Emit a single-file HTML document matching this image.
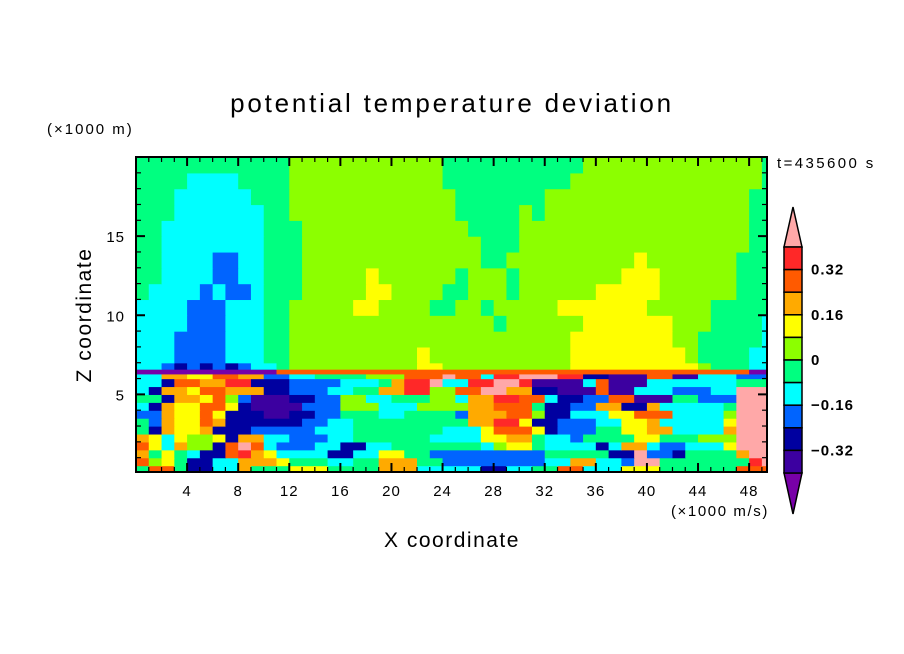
<!DOCTYPE html>
<html><head><meta charset="utf-8">
<style>
html,body{margin:0;padding:0;background:#fff;}
svg{display:block;font-family:"Liberation Sans",sans-serif;}
</style></head>
<body>
<svg id="chart" width="904" height="654" viewBox="0 0 904 654" xmlns="http://www.w3.org/2000/svg">
<rect width="904" height="654" fill="#fff"/>
<text x="452" y="112" font-size="26" letter-spacing="2.8" text-anchor="middle" fill="#000">potential temperature deviation</text>
<text x="47" y="134" font-size="15" letter-spacing="2" fill="#000">(×1000 m)</text>
<text x="777" y="168" font-size="15" letter-spacing="2.4" fill="#000">t=435600 s</text>
<text x="0" y="0" font-size="21" letter-spacing="1.5" text-anchor="middle" transform="translate(91,315) rotate(-90)" fill="#000">Z coordinate</text>
<text x="452" y="547" font-size="21" letter-spacing="1.5" text-anchor="middle" fill="#000">X coordinate</text>
<text x="769" y="516" font-size="15" letter-spacing="1.6" text-anchor="end" fill="#000">(×1000 m/s)</text>
<g id="field"></g>
<g id="axes"></g>
<g id="cbar"></g>
</svg>
<script>
// level colors (index 0 = below min, 11 = above max)
const levelColors = ["#7800a8","#3c00a0","#0000a0","#0064ff","#00ffff","#00ff80","#8cff00","#ffff00","#ffaa00","#ff5a00","#ff2828","#ffa8a8"];
const cbarLabels = ["0.32","0.16","0","−0.16","−0.32"];
const xTickLabels = [4,8,12,16,20,24,28,32,36,40,44,48];
const yTickLabels = [5,10,15];
// row boundaries in z (km), bottom to top
const zEdges = [0,0.5,1,1.5,2,2.5,3,3.5,4,4.5,5,5.5,6,6.3,6.6,7,8,9,10,11,12,13,14,15,16,17,18,19,20];
// run-length encoded level rows "level:count(km)", bottom to top
const rows = [
"5:1,9:2,5:1,2:2,4:2,8:1,5:3,7:3,5:4,8:3,4:5,2:2,4:2,5:2,9:2,4:3,7:3,5:6,9:3",
"9:1,6:1,7:1,5:1,2:2,4:2,8:3,7:1,5:3,4:2,5:2,8:3,5:2,3:8,4:2,8:2,4:2,3:1,11:2,5:7,10:1,11:1",
"8:1,5:1,7:1,5:1,4:1,2:2,9:1,10:1,8:1,7:1,4:4,2:2,4:2,7:2,5:2,3:9,5:5,2:2,11:1,3:2,2:1,5:4,8:1,11:2",
"9:1,7:1,4:1,8:1,6:2,2:1,9:1,11:1,9:1,4:1,3:3,4:2,2:2,4:2,5:7,4:1,6:1,7:2,5:1,4:4,2:1,4:1,8:2,4:1,3:2,4:3,7:1,11:3",
"8:1,7:1,4:1,7:1,6:2,7:1,2:1,8:2,4:2,3:3,4:2,5:6,4:4,7:2,8:2,5:1,4:2,3:1,5:4,7:2,5:3,6:3,11:3",
"5:1,2:1,8:1,7:2,8:1,2:3,3:5,4:3,5:7,4:3,7:1,9:3,7:1,2:1,3:3,5:2,7:2,8:2,4:4,8:1,11:3",
"5:1,3:1,8:1,7:2,9:1,8:1,2:6,3:2,4:2,5:9,8:2,10:2,7:1,2:2,3:3,4:2,7:2,8:1,4:5,7:1,11:3",
"3:2,8:1,7:2,9:1,7:1,2:3,1:2,2:2,3:2,5:3,4:2,5:4,3:1,8:3,9:2,6:1,2:2,4:3,7:2,9:3,4:4,6:1,11:3",
"4:1,2:1,8:1,7:2,9:2,7:1,2:1,1:4,3:3,6:3,4:3,6:4,8:2,9:3,5:1,2:2,3:2,8:2,2:2,8:1,4:5,5:1,11:3",
"5:2,2:1,8:2,7:1,9:1,6:1,3:1,1:3,2:2,3:2,6:2,4:2,5:3,6:2,4:1,8:2,10:2,9:2,4:1,2:2,3:2,9:2,1:3,5:2,3:3,11:3",
"4:1,2:1,8:2,7:1,9:2,8:3,2:2,3:3,4:2,5:2,8:2,10:2,6:2,9:2,11:2,8:2,2:2,1:3,9:1,1:2,4:3,3:3,4:2,11:3",
"4:2,2:1,9:2,8:2,10:2,2:3,3:4,4:3,5:1,8:1,10:2,11:1,4:2,10:2,11:2,10:1,1:4,4:1,9:1,1:3,4:7,5:3",
"4:2,8:2,7:2,9:2,8:2,3:2,4:2,5:4,6:3,9:3,11:1,9:2,4:1,10:2,11:3,10:2,2:2,1:3,9:2,1:2,4:3,3:3",
"0:11,9:37,0:2",
"4:2,3:1,2:1,3:1,2:1,3:1,2:1,3:1,4:2,5:1,6:10,7:2,6:10,7:10,6:1,5:3,4:2",
"4:3,3:4,4:3,5:2,6:10,7:1,6:11,7:9,6:1,5:4,4:2",
"4:3,3:4,4:3,5:2,6:22,7:8,6:2,5:5,4:1",
"4:4,3:3,4:3,5:2,6:16,5:1,6:6,7:7,6:3,5:4,4:1",
"4:4,3:3,4:3,5:2,6:5,7:2,6:4,5:2,6:2,5:1,6:5,7:7,6:5,5:5",
"5:1,4:4,3:1,4:1,3:2,4:1,5:3,6:5,7:2,6:4,5:2,6:3,5:1,6:6,7:5,6:6,5:3",
"5:2,4:4,3:2,4:2,5:3,6:5,7:1,6:6,5:1,6:3,5:1,6:8,7:3,6:6,5:3",
"5:2,4:4,3:2,4:2,5:3,6:14,5:2,6:10,7:1,6:7,5:3",
"5:2,4:8,5:3,6:14,5:3,6:18,5:2",
"5:2,4:8,5:3,6:13,5:4,6:18,5:2",
"5:3,4:7,5:2,6:13,5:5,6:1,5:1,6:16,5:2",
"5:3,4:6,5:3,6:13,5:7,6:16,5:2",
"5:4,4:4,5:4,6:12,5:10,6:15,5:1",
"5:12,6:12,5:11,6:14,5:1"
];
const NS="http://www.w3.org/2000/svg";
const X0=136,X1=767,Y0=473.5,YT=157,XMAX=49.4,ZMAX=20;
function sx(x){return X0+(Math.min(x,XMAX))/XMAX*(X1-X0);}
function sy(z){return Y0-z/ZMAX*(Y0-YT);}
function mk(tag,attrs,parent){const e=document.createElementNS(NS,tag);for(const k in attrs)e.setAttribute(k,attrs[k]);parent.appendChild(e);return e;}
const field=document.getElementById('field');
rows.forEach((r,i)=>{
  let x=0;
  r.split(',').forEach(seg=>{
    const [lv,n]=seg.split(':').map(Number);
    const x0=sx(x), x1=sx(x+n), yTop=sy(zEdges[i+1]), yBot=Math.min(sy(zEdges[i]),472);
    const c=mk('rect',{x:x0.toFixed(2),y:yTop.toFixed(2),width:(x1-x0+0.6).toFixed(2),height:(yBot-yTop+0.6).toFixed(2),fill:levelColors[lv]},field);
    
    
    x+=n;
  });
});
const axes=document.getElementById('axes');
const frame=mk('rect',{x:X0,y:YT,width:X1-X0,height:472-YT,fill:'none',stroke:'#000','stroke-width':2},axes);


for(let v=1;v<=49;v++){
  const major=v%4===0, len=major?9:5, px=sx(v);
  mk('line',{x1:px,y1:472,x2:px,y2:472-len,stroke:'#000','stroke-width':major?2:1.2},axes);
  mk('line',{x1:px,y1:YT,x2:px,y2:YT+len,stroke:'#000','stroke-width':major?2:1.2},axes);
}
for(let v=1;v<=19;v++){
  const major=v%5===0, len=major?9:5, py=sy(v);
  mk('line',{x1:X0,y1:py,x2:X0+len,y2:py,stroke:'#000','stroke-width':major?2:1.2},axes);
  mk('line',{x1:X1,y1:py,x2:X1-len,y2:py,stroke:'#000','stroke-width':major?2:1.2},axes);
}
xTickLabels.forEach(v=>{
  const t=mk('text',{x:sx(v),y:496,'font-size':15,'letter-spacing':1,'text-anchor':'middle',fill:'#000'},axes);
  t.textContent=v;
  
  
});
yTickLabels.forEach(v=>{
  const t=mk('text',{x:125,y:sy(v)+6,'font-size':15,'letter-spacing':1,'text-anchor':'end',fill:'#000'},axes);
  t.textContent=v;
  
  
});
// colorbar
const cb=document.getElementById('cbar');
const CX0=784,CX1=802,CT=247,CB=473,bh=(CB-CT)/10;
const tri1=mk('polygon',{points:`${CX0},${CT} ${CX1},${CT} ${(CX0+CX1)/2},207`,fill:levelColors[11],stroke:'#000','stroke-width':1.5},cb);


const tri2=mk('polygon',{points:`${CX0},${CB} ${CX1},${CB} ${(CX0+CX1)/2},514`,fill:levelColors[0],stroke:'#000','stroke-width':1.5},cb);


for(let k=0;k<10;k++){
  const r=mk('rect',{x:CX0,y:CT+k*bh,width:CX1-CX0,height:bh,fill:levelColors[10-k],stroke:'#000','stroke-width':1.5},cb);
  
  
}
cbarLabels.forEach((s,k)=>{
  const t=mk('text',{x:811,y:CT+(k*2+1)*bh+5,'font-size':15,'letter-spacing':1,fill:'#000','font-weight':'bold'},cb);
  t.textContent=s;
  
  
});
</script>
</body></html>
